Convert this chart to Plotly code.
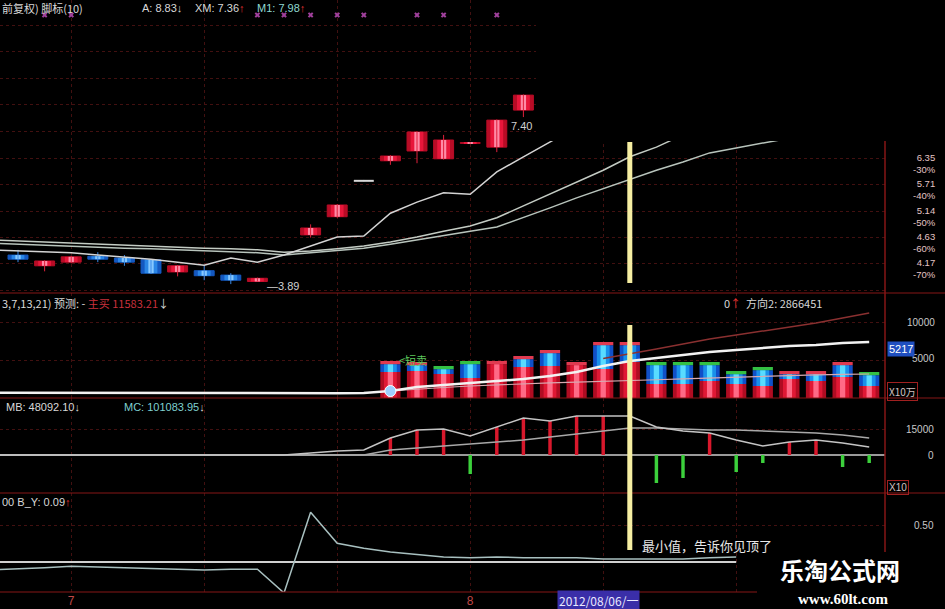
import math
import plotly.graph_objects as go

# ---------------- data ----------------
# bar / day positions: index 0 .. 32 ; "7" month label at index 2, "8" at index 17
candle_idx = list(range(0, 20))
c_open  = [4.32, 4.14, 4.20, 4.30, 4.27, 4.24, 4.04, 4.06, 3.99, 3.89, None, 4.68, 5.03, 5.80, 6.28, 6.53, 6.33, 6.73, 6.63, 7.68]
c_high  = [4.41, 4.23, 4.31, 4.37, 4.32, 4.25, 4.15, 4.15, 4.02, 3.95, None, 4.88, 5.29, 5.82, 6.42, 7.06, 6.96, 6.76, 7.40, 8.17]
c_low   = [4.20, 4.05, 4.18, 4.20, 4.14, 4.01, 3.97, 3.91, 3.85, 3.89, None, 4.63, 5.01, 5.79, 6.18, 6.22, 6.31, 6.72, 6.50, 7.47]
c_close = [4.25, 4.22, 4.29, 4.25, 4.20, 4.02, 4.14, 3.98, 3.91, 3.94, None, 4.81, 5.27, 5.80, 6.40, 7.04, 6.82, 6.75, 7.38, 8.15]

ma_fast_idx = list(range(-1, 22))
ma_fast = [4.41, 4.39, 4.37, 4.36, 4.32, 4.29, 4.25, 4.20, 4.15, 4.27, 4.20, 4.32, 4.48, 4.64, 4.66,
           5.10, 5.33, 5.53, 5.50, 6.01, 6.38, 6.77, 7.18]
ma_mid_idx = list(range(-1, 26))
ma_mid = [4.59, 4.57, 4.55, 4.53, 4.51, 4.50, 4.48, 4.46, 4.44, 4.43, 4.41, 4.37, 4.39, 4.43, 4.48,
          4.55, 4.64, 4.75, 4.85, 5.01, 5.25, 5.50, 5.77, 6.05, 6.38, 6.63, 6.96]
ma_slow_idx = list(range(-1, 30))
ma_slow = [4.53, 4.51, 4.50, 4.48, 4.46, 4.44, 4.43, 4.41, 4.39, 4.37, 4.36, 4.32, 4.36, 4.39, 4.44,
           4.51, 4.59, 4.68, 4.75, 4.83, 5.01, 5.21, 5.42, 5.62, 5.84, 6.05, 6.25, 6.48, 6.61, 6.74, 6.87]

signal_idx = [1, 2, 9, 10, 11, 12, 13, 15, 16, 18]
signal_level = 11.2

price_labels = [6.35, 5.71, 5.14, 4.63, 4.17]
pct_labels = ["-30%", "-40%", "-50%", "-60%", "-70%"]
price_grid = [3.75, 4.17, 4.63, 5.14, 5.71, 6.35, 7.06, 7.84, 8.71, 9.68, 10.75]

# volume panel
vol_idx = list(range(14, 33))
vol_top = [4870, 4740, 4210, 4870, 4870, 5530, 6320, 4740, 7370, 7370, 4740, 4740, 4740, 3550, 4080, 3550, 3550, 4740, 3420]
vol_mid = [4450, 4320, 3790, 4450, 4450, 5110, 5900, 4320, 6950, 6950, 4320, 4320, 4320, 3130, 3660, 3130, 3130, 4320, 3000]
vol_low = [3420, 3550, 3160, 2630, 4450, 4080, 4210, 4320, 3820, 4740, 1840, 1840, 2240, 1840, 1580, 2500, 2240, 2760, 1580]
cap_up  = [1, 1, 0, 0, 1, 1, 1, 1, 1, 1, 0, 0, 0, 0, 0, 1, 1, 1, 0]
vol_ma1_idx = list(range(-1, 33))
vol_ma1 = [700, 690, 700, 720, 700, 680, 650, 640, 620, 600, 600, 590, 600, 640, 660,
           920, 1450, 1710, 1970, 2240, 2500, 2900, 3420, 4210, 4870, 5260, 5660, 6050, 6320, 6580, 6840, 6970, 7240, 7370]
vol_ma2_idx = list(range(14, 33))
vol_ma2 = [920, 1180, 1380, 1580, 1750, 1900, 2000, 2100, 2170, 2240, 2400, 2530, 2630, 2760, 2900, 2980, 3050, 3100, 3160]
vol_ma3_idx = list(range(22, 33))
vol_ma3 = [5200, 5790, 6450, 7100, 7760, 8290, 8820, 9340, 9870, 10530, 11190]

# MB / MC panel
macd_idx = list(range(14, 33))
macd_bar = [9810, 14425, 14425, -10960, 16150, 21350, 19620, 22500, 22500, 22500, -16160, -13270, 12690, -9810, -4620, 7500, 8650, -6920, -4620]
mb_idx = list(range(-1, 33))
mb = [0, 0, 0, 0, 0, 0, 0, 0, 0, 0, 0, 0, 1150, 2300, 2900, 9810, 14400, 15000, 10960, 16150, 21350, 19620,
      22500, 22500, 22500, 16150, 13850, 12690, 8650, 5190, 7500, 8650, 6920, 4620]
mc = [0, 0, 0, 0, 0, 0, 0, 0, 0, 0, 0, 0, 0, 0, 0, 2900, 4040, 5190, 6350, 7500, 8650, 10390,
      12120, 13850, 15580, 15580, 15000, 14430, 14430, 13850, 13270, 12690, 11540, 9810]

# B_Y panel
by_idx = list(range(-1, 28))
by_val = [-0.11, -0.10, -0.08, -0.06, -0.07, -0.08, -0.10, -0.10, -0.11, -0.10, -0.10, -0.43, 0.69, 0.26,
          0.19, 0.14, 0.10, 0.07, 0.06, 0.07, 0.06, 0.06, 0.06, 0.04, 0.04, 0.04, 0.04, 0.06, 0.07]
by_ref = [0.0] * len(by_idx)

mark_idx = 23          # the highlighted day (yellow line)
mark_date = "2012/08/06/一"
month_ticks = [2, 7, 12, 17, 22, 27]
month_text = ["7", "", "", "8", "", ""]

# ---------------- layout helpers ----------------
W, H = 885.0, 592.0   # plot area in px (figure 945 x 609)


def px(x):
    return x / W


def py(y):
    return 1 - y / H


X_RANGE = [-0.677, 32.594]
FONT = "Liberation Sans, Arial, Noto Sans CJK SC, sans-serif"
CJK = "Noto Sans CJK SC, sans-serif"
GRID = "#421010"

fig = go.Figure()


def layered_bars(x, base, h, colors, widths, xa, ya, line=None):
    for k, (col, w) in enumerate(zip(colors, widths)):
        mk = dict(color=col, line=dict(width=0))
        if k == 0 and line:
            mk["line"] = dict(width=line, color=col)
        fig.add_trace(go.Bar(x=x, y=h, base=base, width=w, marker=mk, xaxis=xa, yaxis=ya,
                             showlegend=False, hoverinfo="skip"))


# ---------------- price panel ----------------
up = dict(x=[], b=[], h=[], wx=[], wy=[])
dn = dict(x=[], b=[], h=[], wx=[], wy=[])
fl = dict(x=[], y=[], wx=[], wy=[])
for i, o, hi, lo, c in zip(candle_idx, c_open, c_high, c_low, c_close):
    if o is None:
        continue
    if c > o:
        g = up
    elif c < o:
        g = dn
    else:
        fl["x"] += [i - 0.375, i + 0.375, None]
        fl["y"] += [o, o, None]
        fl["wx"] += [i, i, None]
        fl["wy"] += [lo, hi, None]
        continue
    g["x"].append(i)
    g["b"].append(min(o, c))
    g["h"].append(abs(c - o))
    g["wx"] += [i, i, None]
    g["wy"] += [lo, hi, None]

for g, wcol in ((up, "#e0203c"), (dn, "#3a8ae8")):
    fig.add_trace(go.Scatter(x=g["wx"], y=g["wy"], mode="lines", line=dict(color=wcol, width=1),
                             xaxis="x", yaxis="y", showlegend=False, hoverinfo="skip"))
layered_bars(up["x"], up["b"], up["h"], ["#b80c26", "#e8163a", "#ff8aa6"], [0.75, 0.48, 0.2], "x", "y", line=1)
layered_bars(dn["x"], dn["b"], dn["h"], ["#1458c0", "#2a86e6", "#86c8ff"], [0.75, 0.48, 0.2], "x", "y", line=1)
fig.add_trace(go.Scatter(x=fl["wx"], y=fl["wy"], mode="lines", line=dict(color="#c8c8c8", width=1),
                         xaxis="x", yaxis="y", showlegend=False, hoverinfo="skip"))
fig.add_trace(go.Scatter(x=fl["x"], y=fl["y"], mode="lines", line=dict(color="#d8d8d8", width=2),
                         xaxis="x", yaxis="y", showlegend=False, hoverinfo="skip"))

for xi, yi, col in ((ma_slow_idx, ma_slow, "#b8c4bc"), (ma_mid_idx, ma_mid, "#c4ccc4"),
                    (ma_fast_idx, ma_fast, "#d4d4d4")):
    fig.add_trace(go.Scatter(x=xi, y=yi, mode="lines", line=dict(color=col, width=1.5),
                             xaxis="x", yaxis="y", showlegend=False, hoverinfo="skip"))

fig.add_trace(go.Scatter(x=signal_idx, y=[signal_level] * len(signal_idx), mode="markers",
                         marker=dict(symbol="x", size=5, color="#a0409c", line=dict(width=0)),
                         xaxis="x", yaxis="y", showlegend=False, hoverinfo="skip"))

# ---------------- volume panel ----------------
red_cols = ["#b00c22", "#e01834", "#ff6a86"]
cyan_cols = ["#1050c8", "#1a90ea", "#58dcff"]
widths = [0.76, 0.48, 0.2]
layered_bars(vol_idx, [0] * len(vol_idx), vol_low, red_cols, widths, "x2", "y2")
layered_bars(vol_idx, vol_low, [m - l for m, l in zip(vol_mid, vol_low)], cyan_cols, widths, "x2", "y2")
fig.add_trace(go.Bar(x=vol_idx, y=[t - m for t, m in zip(vol_top, vol_mid)], base=vol_mid, width=0.76,
                     marker=dict(color=["#e03a50" if u else "#34c044" for u in cap_up], line=dict(width=0)),
                     xaxis="x2", yaxis="y2", showlegend=False, hoverinfo="skip"))
fig.add_trace(go.Scatter(x=vol_ma3_idx, y=vol_ma3, mode="lines", line=dict(color="#8a3030", width=1.5),
                         xaxis="x2", yaxis="y2", showlegend=False, hoverinfo="skip"))
fig.add_trace(go.Scatter(x=vol_ma2_idx, y=vol_ma2, mode="lines", line=dict(color="#d8a8b0", width=1.2),
                         xaxis="x2", yaxis="y2", showlegend=False, hoverinfo="skip"))
fig.add_trace(go.Scatter(x=vol_ma1_idx, y=vol_ma1, mode="lines", line=dict(color="#f2f2f2", width=2.5),
                         xaxis="x2", yaxis="y2", showlegend=False, hoverinfo="skip"))
fig.add_trace(go.Scatter(x=[vol_idx[0]], y=[vol_ma1[vol_ma1_idx.index(vol_idx[0])]], mode="markers",
                         marker=dict(symbol="circle", size=11, color="#9fd0ff", line=dict(color="#ffffff", width=1)),
                         xaxis="x2", yaxis="y2", showlegend=False, hoverinfo="skip"))

# ---------------- MB / MC panel ----------------
fig.add_trace(go.Bar(x=macd_idx, y=macd_bar, width=0.13,
                     marker=dict(color=["#d8182c" if v > 0 else "#3cd03c" for v in macd_bar], line=dict(width=0)),
                     xaxis="x3", yaxis="y3", showlegend=False, hoverinfo="skip"))
fig.add_trace(go.Scatter(x=mb_idx, y=mc, mode="lines", line=dict(color="#a8a8a8", width=1.5),
                         xaxis="x3", yaxis="y3", showlegend=False, hoverinfo="skip"))
fig.add_trace(go.Scatter(x=mb_idx, y=mb, mode="lines", line=dict(color="#c4c4c4", width=1.5),
                         xaxis="x3", yaxis="y3", showlegend=False, hoverinfo="skip"))

# ---------------- B_Y panel ----------------
fig.add_trace(go.Scatter(x=by_idx, y=by_ref, mode="lines", line=dict(color="#d0d0d0", width=2),
                         xaxis="x4", yaxis="y4", showlegend=False, hoverinfo="skip"))
fig.add_trace(go.Scatter(x=by_idx, y=by_val, mode="lines", line=dict(color="#a8c0c0", width=1.5),
                         xaxis="x4", yaxis="y4", showlegend=False, hoverinfo="skip"))

# ---------------- axes ----------------
p_top = 6.35 * math.exp(158 / 252.0)
p_bot = 6.35 * math.exp((158 - 293) / 252.0)

xcommon = dict(range=X_RANGE, showgrid=True, gridcolor=GRID, griddash="dot", gridwidth=1,
               tickvals=month_ticks, showticklabels=False, ticks="", zeroline=False, showline=False,
               fixedrange=True)
ycommon = dict(side="right", showticklabels=False, ticks="", showgrid=True, gridcolor=GRID,
               griddash="dot", zeroline=False, showline=False, fixedrange=True)

layout = dict(
    width=945, height=609,
    margin=dict(l=0, r=60, t=0, b=17),
    paper_bgcolor="#000000", plot_bgcolor="#000000",
    barmode="overlay", showlegend=False,
    font=dict(family=FONT, size=11, color="#d8d8d8"),
    xaxis=dict(xcommon, anchor="y", domain=[0, 1]),
    xaxis2=dict(xcommon, anchor="y2", domain=[0, 1], matches="x"),
    xaxis3=dict(xcommon, anchor="y3", domain=[0, 1], matches="x"),
    xaxis4=dict(xcommon, anchor="y4", domain=[0, 1], matches="x", showticklabels=True,
                ticktext=month_text, ticklabelstandoff=0,
                tickfont=dict(color="#c04848", size=12, family=FONT)),
    yaxis=dict(ycommon, anchor="x", domain=[py(293), 1], type="log",
               range=[math.log10(p_bot), math.log10(p_top)], tickvals=price_grid),
    yaxis2=dict(ycommon, anchor="x2", domain=[py(398), py(293)], range=[0, 13820], tickvals=[5000, 10000]),
    yaxis3=dict(ycommon, anchor="x3", domain=[py(493), py(398)], range=[-21930, 32890], tickvals=[15000],
                zeroline=True, zerolinecolor="#9a9a9a", zerolinewidth=2),
    yaxis4=dict(ycommon, anchor="x4", domain=[0, py(493)], range=[-0.417, 0.958], tickvals=[0.5]),
)
fig.update_layout(**layout)

# ---------------- shapes ----------------
SEP = "#861616"
shapes = []
for yy in (293, 398, 493, 592):
    shapes.append(dict(type="line", xref="paper", yref="paper", x0=0, x1=945 / W, y0=py(yy), y1=py(yy),
                       line=dict(color=SEP, width=1), layer="above"))
shapes.append(dict(type="line", xref="paper", yref="paper", x0=px(885), x1=px(885), y0=py(0), y1=py(592),
                   line=dict(color=SEP, width=1.5), layer="above"))
# blacked-out upper-right area of the screenshot
shapes.append(dict(type="rect", xref="paper", yref="paper", x0=px(536), x1=945 / W, y0=py(141), y1=py(-2),
                   fillcolor="#000000", line=dict(width=0), layer="above"))
# yellow marker line
for y0, y1 in ((142, 283), (325, 550)):
    shapes.append(dict(type="line", xref="x", yref="paper", x0=mark_idx, x1=mark_idx, y0=py(y0), y1=py(y1),
                       line=dict(color="#f6eea2", width=5), layer="above"))
# watermark background
shapes.append(dict(type="rect", xref="paper", yref="paper", x0=px(757), x1=945 / W, y0=py(552), y1=py(612),
                   fillcolor="#000000", line=dict(width=0), layer="above"))
fig.update_layout(shapes=shapes)

# ---------------- annotations ----------------
ann = []


def txt(x, y, text, size=11, color="#d8d8d8", xanchor="left", family=FONT, **kw):
    d = dict(xref="paper", yref="paper", x=px(x), y=py(y), text=text, showarrow=False,
             xanchor=xanchor, yanchor="middle", font=dict(size=size, color=color, family=family))
    d.update(kw)
    ann.append(d)


RED = "#e03030"
# price header
txt(0, 8, "前复权) 脚标(10)", family=CJK)
txt(140, 8, "A: 8.83↓")
txt(193, 8, f"XM: 7.36<span style='color:{RED}'>↑</span>")
txt(255, 8, f"<span style='color:#8fd8d0'>M1: 7.98</span><span style='color:{RED}'>↑</span>")
# high / low labels
ann.append(dict(xref="x", yref="y", x=18.45, y=math.log10(c_high[18]), text="7.40", showarrow=False,
                xanchor="left", yanchor="middle", yshift=-7, font=dict(size=11, color="#d0d0d0", family=FONT)))
ann.append(dict(xref="x", yref="y", x=9.3, y=math.log10(min(v for v in c_low if v)), text="—3.89",
                showarrow=False, xanchor="left", yanchor="middle", yshift=-2,
                font=dict(size=11, color="#d0d0d0", family=FONT)))
# price axis labels (price above, percentage below)
for v, p in zip(price_labels, pct_labels):
    ann.append(dict(xref="paper", yref="y", x=px(938), y=math.log10(v), text=f"{v:.2f}<br>{p}",
                    showarrow=False, xanchor="right", yanchor="middle", yshift=-5, align="right",
                    font=dict(size=9.5, color="#e4c4c4", family=FONT)))

# volume header
txt(0, 303, f"3,7,13,21) 预测: - <span style='color:#c8303c'>主买 11583.21</span>↓", family=CJK)
txt(722, 303, f"0<span style='color:{RED}'>↑</span>  方向2: 2866451", family=CJK)
txt(397, 360, "<短卖", size=11, color="#5cc85c", family=CJK)
ann.append(dict(xref="paper", yref="y2", x=px(937), y=10000, text="10000", showarrow=False, xanchor="right",
                yanchor="middle", font=dict(size=10, color="#c8c8c8", family=FONT)))
ann.append(dict(xref="paper", yref="y2", x=px(937), y=5000, text="5000", showarrow=False, xanchor="right",
                yanchor="middle", yshift=2, font=dict(size=10, color="#c8c8c8", family=FONT)))
txt(887, 349, "5217", size=11, color="#ffffff", bgcolor="#1f4fc0", borderpad=1)
txt(887, 391, "X10万", size=10, color="#d0c0c0", bordercolor="#a02020", borderwidth=1, borderpad=1, family=CJK)

# MB / MC header
txt(4, 407, "MB: 48092.10↓")
txt(122, 407, "<span style='color:#7fd0d0'>MC: 101083.95</span>↓")
ann.append(dict(xref="paper", yref="y3", x=px(936), y=15000, text="15000", showarrow=False, xanchor="right",
                yanchor="middle", font=dict(size=10, color="#c8c8c8", family=FONT)))
ann.append(dict(xref="paper", yref="y3", x=px(936), y=0, text="0", showarrow=False, xanchor="right",
                yanchor="middle", font=dict(size=10, color="#c8c8c8", family=FONT)))
txt(887, 487, "X10", size=10, color="#d0c0c0", bordercolor="#a02020", borderwidth=1, borderpad=1)

# B_Y header
txt(0, 502, f"00 B_Y: 0.09<span style='color:{RED}'>↑</span>")
ann.append(dict(xref="paper", yref="y4", x=px(936), y=0.5, text="0.50", showarrow=False, xanchor="right",
                yanchor="middle", font=dict(size=10, color="#c8c8c8", family=FONT)))
txt(640, 545, "最小值，告诉你见顶了", size=13, color="#e8e8e8", family=CJK)

# date box on the x axis
ann.append(dict(xref="x4", yref="paper", x=mark_idx + 0.38, y=py(600), text=mark_date, showarrow=False,
                xanchor="right", yanchor="middle", bgcolor="#3a2ea8", borderpad=1,
                font=dict(size=12, color="#e8e8ff", family=CJK)))

# watermark
txt(840, 569, "<b>乐淘公式网</b>", size=24, color="#ffffff", xanchor="center", family=CJK, borderpad=0)
txt(843, 599, "<b>www.60lt.com</b>", size=15, color="#ffffff", xanchor="center",
    family="Liberation Serif, DejaVu Serif, serif", borderpad=0)

fig.update_layout(annotations=ann)
fig.write_html("out.html", config={"displayModeBar": False},
               post_script="document.body.style.margin='0';document.body.style.overflow='hidden';")
